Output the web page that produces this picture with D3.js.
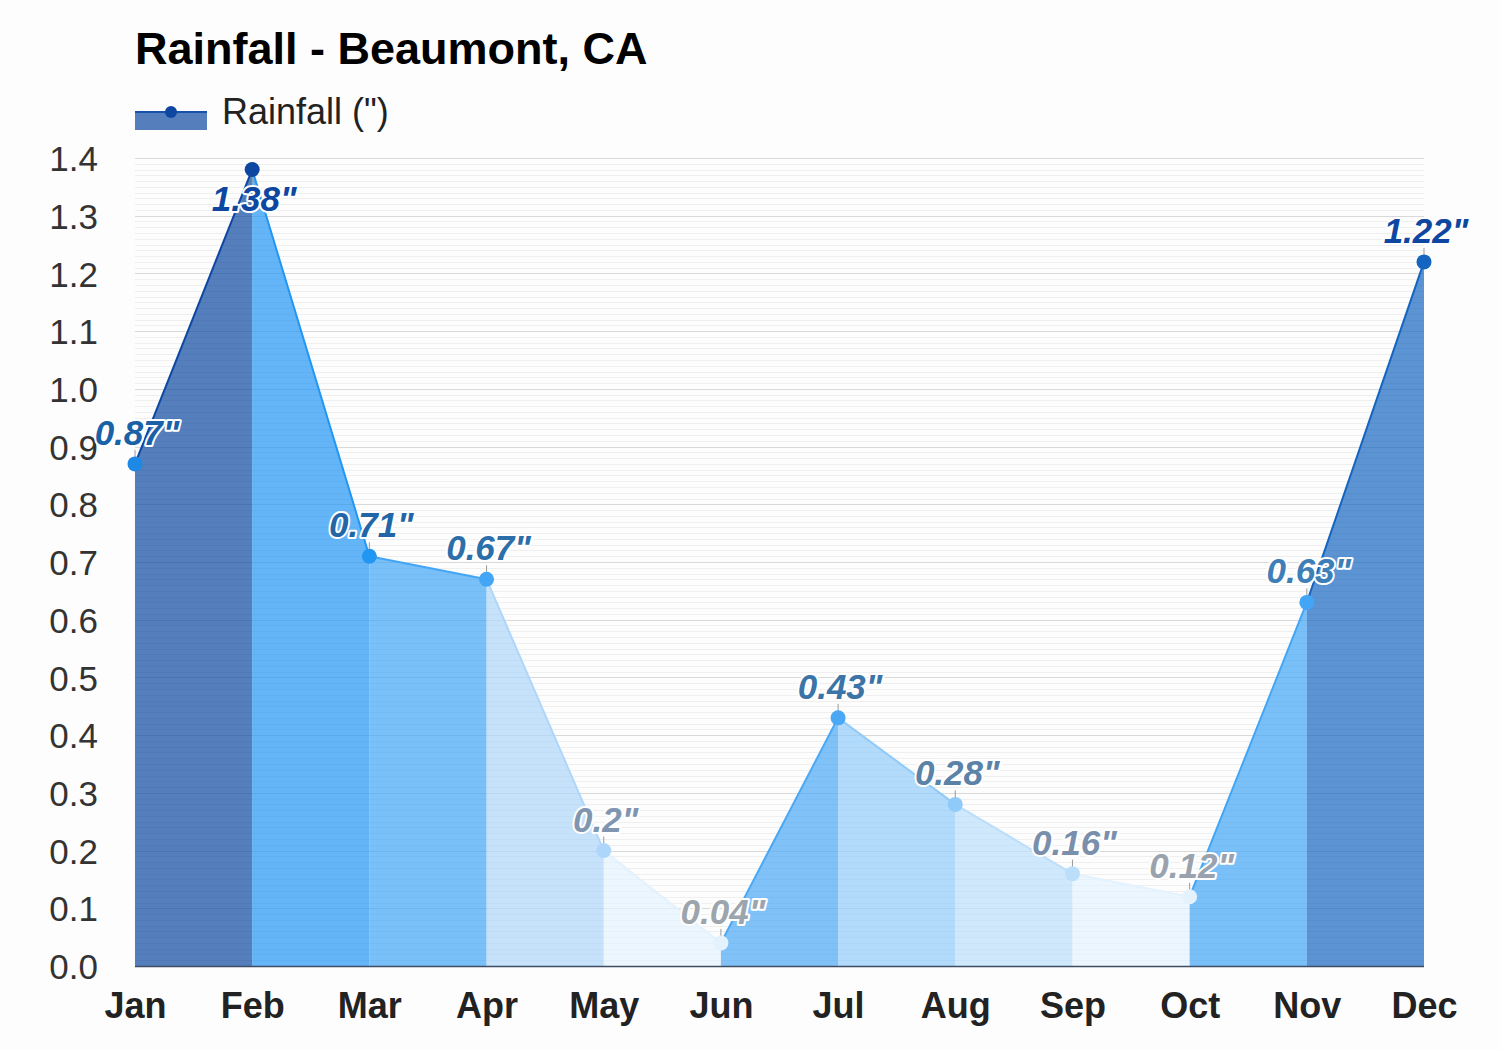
<!DOCTYPE html>
<html>
<head>
<meta charset="utf-8">
<script src="https://cdn.jsdelivr.net/npm/d3@7"></script>
<style>
  html, body { margin: 0; padding: 0; background: #fdfdfd; }
  svg { display: block; font-family: "Liberation Sans", Arial, sans-serif; }
</style>
</head>
<body>
<svg id="chart" width="1500" height="1050"></svg>
<script>
const months = ["Jan","Feb","Mar","Apr","May","Jun","Jul","Aug","Sep","Oct","Nov","Dec"];
const rainfall = [0.87, 1.38, 0.71, 0.67, 0.2, 0.04, 0.43, 0.28, 0.16, 0.12, 0.63, 1.22];
const labels = ['0.87"','1.38"','0.71"','0.67"','0.2"','0.04"','0.43"','0.28"','0.16"','0.12"','0.63"','1.22"'];
const yTicks = [0, 0.1, 0.2, 0.3, 0.4, 0.5, 0.6, 0.7, 0.8, 0.9, 1.0, 1.1, 1.2, 1.3, 1.4];

// styling (per-point colours)
const pointColors = ["#1e88e5","#0d47a1","#2196f3","#42a5f5","#aed6fa","#e3f2fd","#4aa8f5","#90caf9","#bbdefb","#e3f2fd","#42a5f5","#1565c0"];
const labelColors = ["#1a62a8","#0d47a1","#2366a8","#2c6ea9","#8095b0","#9ca5ad","#3b74a6","#5b83a8","#7a8fab","#9aa3ad","#3f7fb8","#0d47a1"];

const svg = d3.select("#chart");
const plotLeft = 135, plotRight = 1424, plotTop = 158, plotBottom = 966;

const x = d3.scalePoint().domain(months).range([plotLeft, plotRight]);
const y = d3.scaleLinear().domain([0, 1.4]).range([plotBottom, plotTop]);

// minor grid
const minor = d3.range(0, 141).map(d => d / 100);
svg.append("g").selectAll("line").data(minor).join("line")
  .attr("x1", plotLeft).attr("x2", plotRight)
  .attr("y1", d => Math.round(y(d)) + 0.5).attr("y2", d => Math.round(y(d)) + 0.5)
  .attr("stroke", "#efefef").attr("stroke-width", 1);

// major grid
svg.append("g").selectAll("line").data(yTicks).join("line")
  .attr("x1", plotLeft).attr("x2", plotRight)
  .attr("y1", d => Math.round(y(d)) + 0.5).attr("y2", d => Math.round(y(d)) + 0.5)
  .attr("stroke", "#d9d9d9").attr("stroke-width", 1);

// segments
const pts = months.map((m, i) => ({m, v: rainfall[i], i}));
const area = d3.area().x(d => x(d.m)).y0(y(0)).y1(d => y(d.v));
const line = d3.line().x(d => x(d.m)).y(d => y(d.v));
const segs = d3.range(0, pts.length - 1).map(i => [pts[i], pts[i + 1]]);

svg.append("g").selectAll("path").data(segs).join("path")
  .attr("d", area)
  .attr("fill", d => pointColors[d[1].i])
  .attr("fill-opacity", 0.7);

svg.append("g").selectAll("path").data(segs).join("path")
  .attr("d", line)
  .attr("fill", "none")
  .attr("stroke", d => pointColors[d[1].i])
  .attr("stroke-width", 2);

// x axis line
svg.append("line")
  .attr("x1", plotLeft).attr("x2", plotRight)
  .attr("y1", plotBottom + 0.5).attr("y2", plotBottom + 0.5)
  .attr("stroke", "#3d4d66").attr("stroke-width", 1.5);

// y axis labels
const yAxis = d3.axisLeft(y).tickValues(yTicks).tickFormat(d3.format(".1f")).tickSize(0).tickPadding(37);
const gy = svg.append("g").attr("transform", `translate(${plotLeft},0)`).call(yAxis);
gy.select(".domain").remove();
gy.selectAll("text")
  .attr("font-size", 35).attr("fill", "#333333")
  .attr("font-family", "Liberation Sans, Arial, sans-serif")
  .attr("dy", "0.36em");

// x axis labels
const xAxis = d3.axisBottom(x).tickSize(0).tickPadding(26);
const gx = svg.append("g").attr("transform", `translate(0,${plotBottom})`).call(xAxis);
gx.select(".domain").remove();
gx.selectAll("text")
  .attr("font-size", 36).attr("font-weight", "bold").attr("fill", "#222222")
  .attr("font-family", "Liberation Sans, Arial, sans-serif")
  .attr("dy", "0.71em");

// connectors
svg.append("g").selectAll("line").data(pts).join("line")
  .attr("x1", d => x(d.m)).attr("x2", d => x(d.m))
  .attr("y1", d => d.i === 1 ? y(d.v) + 14 : y(d.v) - 14)
  .attr("y2", d => y(d.v))
  .attr("stroke", "#999999").attr("stroke-width", 1);

// points
svg.append("g").selectAll("circle").data(pts).join("circle")
  .attr("cx", d => x(d.m)).attr("cy", d => y(d.v)).attr("r", 7.5)
  .attr("fill", d => pointColors[d.i]);

// data labels
svg.append("g").selectAll("text").data(pts).join("text")
  .attr("x", d => x(d.m) + 2)
  .attr("y", d => d.i === 1 ? y(d.v) + 41 : y(d.v) - 19)
  .attr("text-anchor", "middle")
  .attr("font-size", 35).attr("font-weight", "bold").attr("font-style", "italic")
  .attr("fill", d => labelColors[d.i])
  .attr("stroke", "#ffffff").attr("stroke-width", 4).attr("stroke-linejoin", "round")
  .attr("paint-order", "stroke")
  .text(d => labels[d.i]);

// title
svg.append("text")
  .attr("x", 135).attr("y", 64)
  .attr("font-size", 45).attr("font-weight", "bold").attr("fill", "#000000")
  .text("Rainfall - Beaumont, CA");

// legend
const lg = svg.append("g");
lg.append("rect").attr("x", 135).attr("y", 112).attr("width", 72).attr("height", 18)
  .attr("fill", "#0d47a1").attr("fill-opacity", 0.7);
lg.append("line").attr("x1", 135).attr("x2", 207).attr("y1", 112).attr("y2", 112)
  .attr("stroke", "#1650a8").attr("stroke-width", 2);
lg.append("circle").attr("cx", 171).attr("cy", 112).attr("r", 6).attr("fill", "#0d47a1");
lg.append("text").attr("x", 222).attr("y", 124)
  .attr("font-size", 36).attr("fill", "#222222")
  .text('Rainfall (")');
</script>
</body>
</html>
